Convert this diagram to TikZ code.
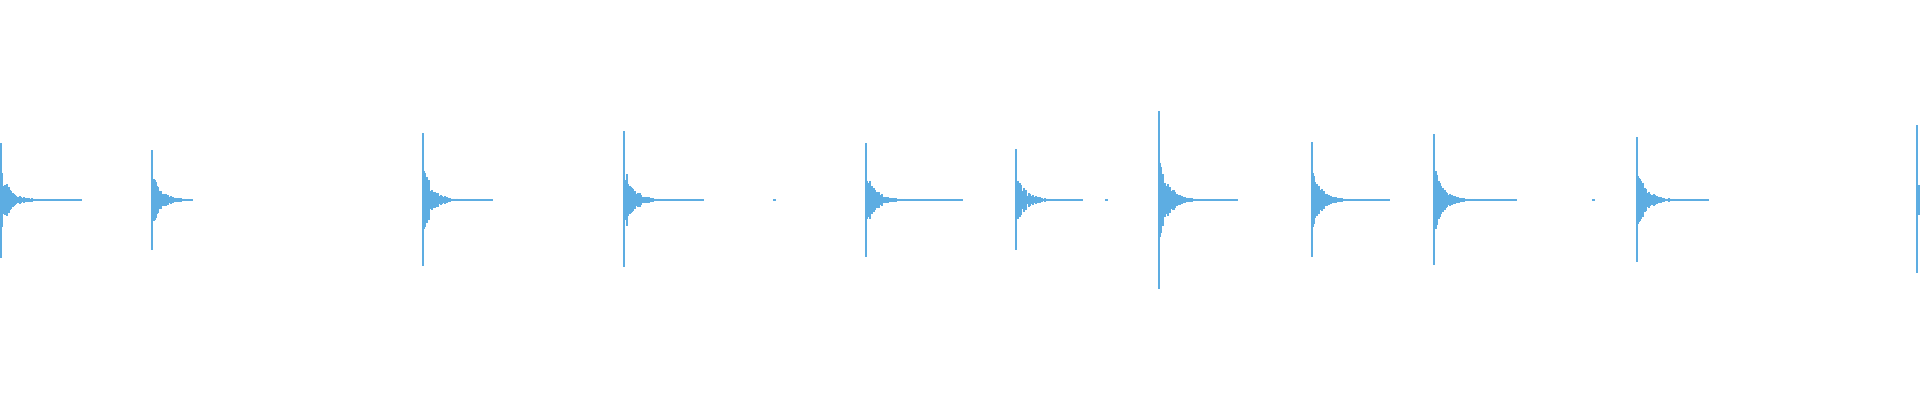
\documentclass[tikz,border=0pt]{standalone}
\definecolor{wavecol}{RGB}{93,173,226}
\tikzset{
    wave/.style={draw=wavecol, line width=0.6pt},
    tail/.style={draw=wavecol, line width=0.35pt}
}
\begin{document}
\begin{tikzpicture}[x=0.01cm, y=-0.01cm]
\useasboundingbox (0,0) rectangle (1920,400);
\pgfmathsetseed{7}
% one burst: x, top, bottom, end of tail
\foreach \bx/\up/\dn/\tl in {1/143/258/82, 152/150/250/190, 423/133/266/493,
    624/131/267/704, 866/143/257/963, 1016/149/250/1083, 1159/111/289/1238,
    1312/142/257/1390, 1434/134/265/1517, 1637/137/262/1709}{
  \draw[wave] (\bx,\up) -- (\bx,\dn);
  \draw[tail] (\bx,200) -- (\tl,200);
  \foreach \i in {1,...,40}{
    \pgfmathsetmacro\amp{(200-\up)*0.55*exp(-\i/9)*(0.45+0.55*rnd)+0.6}
    \draw[wave] (\bx+\i,200-\amp) -- (\bx+\i,200+\amp);
  }
}
% isolated specks on the base line
\coordinate (s1) at (773,200);
\coordinate (s2) at (1105,200);
\coordinate (s3) at (1592,200);
\foreach \s in {s1,s2,s3}
  \draw[tail] (\s) -- ++(3,0);
% last burst, cut at the right edge
\draw[wave] (1917,125) -- (1917,273);
\foreach \i in {1,2}
  \draw[wave] (1917+\i,185) -- (1917+\i,215);
\end{tikzpicture}
\end{document}
